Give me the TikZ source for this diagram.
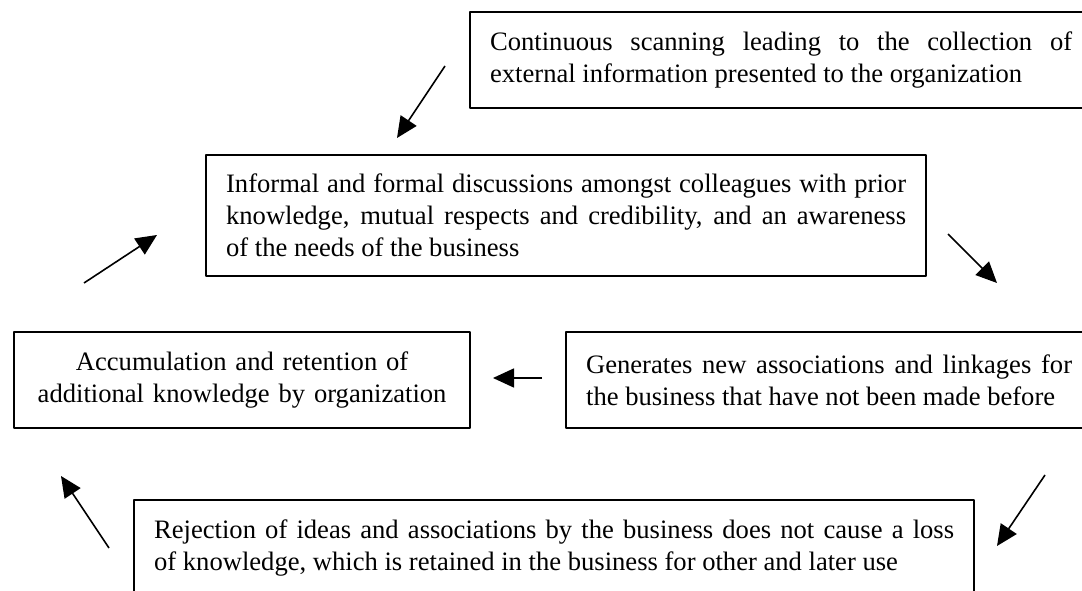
\documentclass[tikz,border=0pt]{standalone}
\usepackage{fontspec}
\setmainfont{Liberation Serif}
\usetikzlibrary{arrows.meta}
\hyphenpenalty=10000 \exhyphenpenalty=10000
\begin{document}
\begin{tikzpicture}[x=1pt,y=1pt,line join=round,
	box/.style={draw,line width=2.2pt,anchor=north west,inner xsep=20pt,inner ysep=0pt,align=justify,font=\fontsize{26.6}{32}\selectfont},
	arr/.style={line width=1.6pt,-{Triangle[length=21pt,width=19pt]}}]
	\useasboundingbox (0,0) rectangle (1082,590);
	\clip (0,0) rectangle (1082,590);
	% Boxes
	\node[box,text width=582pt,minimum height=96pt] (scan) at (469,579)
	{Continuous scanning leading to the collection of\linebreak external information presented to the organization};
	\node[box,text width=680pt,minimum height=121pt] (talk) at (205,436)
	{Informal and formal discussions amongst colleagues with prior\linebreak knowledge, mutual respects and credibility, and an awareness\linebreak of the needs of the business};
	\node[box,text width=416pt,minimum height=96pt,align=center] (accum) at (13,259)
	{Accumulation and retention of\\ additional knowledge by organization};
	\node[box,text width=486pt,minimum height=96pt] (assoc) at (565,259)
	{Generates new associations and linkages for\linebreak the business that have not been made before};
	\node[box,text width=800pt,minimum height=96pt] (reject) at (133,91)
	{Rejection of ideas and associations by the business does not cause a loss\linebreak of knowledge, which is retained in the business for other and later use};
	% Arrow ends
	\coordinate (s1) at (445,524); \coordinate (s2) at (397,452);
	\coordinate (t1) at (948,356); \coordinate (t2) at (997,307);
	\coordinate (g1) at (542,212); \coordinate (g2) at (493,212);
	\coordinate (r1) at (1045,115); \coordinate (r2) at (997,44);
	\coordinate (k1) at (109,42); \coordinate (k2) at (61,114);
	\coordinate (c1) at (84,307); \coordinate (c2) at (157,355);
	\draw[arr] (s1)--(s2);
	\draw[arr] (t1)--(t2);
	\draw[arr] (g1)--(g2);
	\draw[arr] (r1)--(r2);
	\draw[arr] (k1)--(k2);
	\draw[arr] (c1)--(c2);
\end{tikzpicture}
\end{document}
